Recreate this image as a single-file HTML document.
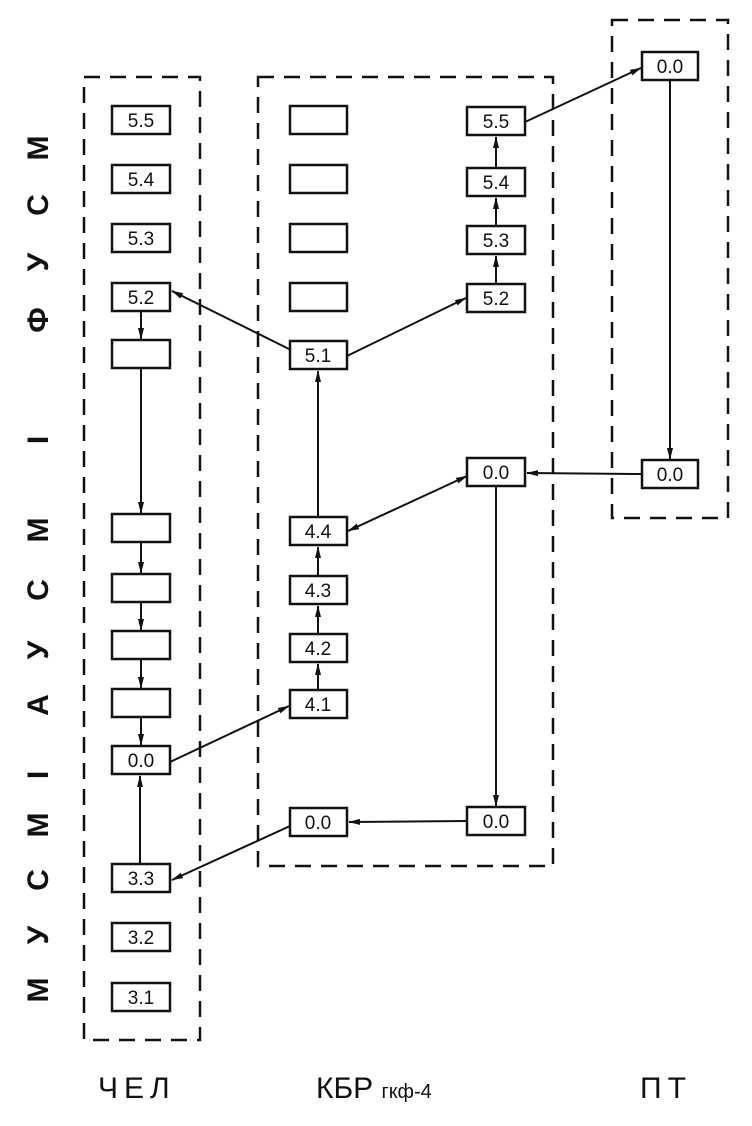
<!DOCTYPE html>
<html><head><meta charset="utf-8"><style>
html,body{margin:0;padding:0;background:#fff}
svg{display:block}
text{font-family:"Liberation Sans","DejaVu Sans",sans-serif;fill:#111}
</style></head><body>
<svg width="752" height="1126" viewBox="0 0 752 1126" xmlns="http://www.w3.org/2000/svg">
<defs>
<marker id="a" markerWidth="12" markerHeight="8" refX="11" refY="4" orient="auto" markerUnits="userSpaceOnUse">
<path d="M0,1 L12,4 L0,7 z" fill="#111"/></marker>
<marker id="s" markerWidth="12" markerHeight="8" refX="1" refY="4" orient="auto" markerUnits="userSpaceOnUse">
<path d="M12,1 L0,4 L12,7 z" fill="#111"/></marker>
</defs>
<g fill="none" stroke="#111" stroke-width="2.5" stroke-dasharray="16,10">
<rect x="84" y="77" width="116" height="963"/>
<rect x="258" y="77" width="295" height="789"/>
<rect x="612" y="20" width="116" height="498"/>
</g>
<g fill="#fff" stroke="#111" stroke-width="2.5">
<rect x="112" y="106" width="58" height="28"/>
<rect x="112" y="165" width="58" height="28"/>
<rect x="112" y="224" width="58" height="28"/>
<rect x="112" y="283" width="58" height="28"/>
<rect x="112" y="340" width="58" height="28"/>
<rect x="112" y="514" width="58" height="28"/>
<rect x="112" y="574" width="58" height="28"/>
<rect x="112" y="631" width="58" height="28"/>
<rect x="112" y="689" width="58" height="28"/>
<rect x="112" y="746" width="58" height="28"/>
<rect x="112" y="864" width="58" height="28"/>
<rect x="112" y="923" width="58" height="28"/>
<rect x="112" y="983" width="58" height="28"/>
<rect x="290" y="106" width="57" height="28"/>
<rect x="290" y="165" width="57" height="28"/>
<rect x="290" y="224" width="57" height="28"/>
<rect x="290" y="283" width="57" height="28"/>
<rect x="290" y="341" width="57" height="28"/>
<rect x="290" y="517" width="57" height="28"/>
<rect x="290" y="576" width="57" height="28"/>
<rect x="290" y="634" width="57" height="28"/>
<rect x="290" y="690" width="57" height="28"/>
<rect x="290" y="808" width="57" height="28"/>
<rect x="467" y="107" width="58" height="28"/>
<rect x="467" y="168" width="58" height="28"/>
<rect x="467" y="226" width="58" height="28"/>
<rect x="467" y="284" width="58" height="28"/>
<rect x="467" y="458" width="58" height="28"/>
<rect x="467" y="807" width="58" height="28"/>
<rect x="642" y="52" width="56" height="28"/>
<rect x="642" y="460" width="56" height="28"/>
</g>
<g font-size="19" text-anchor="middle">
<text x="141" y="127">5.5</text><text x="141" y="186">5.4</text><text x="141" y="245">5.3</text>
<text x="141" y="304">5.2</text><text x="141" y="767">0.0</text><text x="141" y="885">3.3</text>
<text x="141" y="944">3.2</text><text x="141" y="1004">3.1</text>
<text x="318" y="362">5.1</text><text x="318" y="538">4.4</text><text x="318" y="597">4.3</text>
<text x="318" y="655">4.2</text><text x="318" y="711">4.1</text><text x="318" y="829">0.0</text>
<text x="496" y="128">5.5</text><text x="496" y="189">5.4</text><text x="496" y="247">5.3</text>
<text x="496" y="305">5.2</text><text x="496" y="479">0.0</text><text x="496" y="828">0.0</text>
<text x="670" y="73">0.0</text><text x="670" y="481">0.0</text>
</g>
<g stroke="#111" stroke-width="2" fill="none" marker-end="url(#a)">
<line x1="291" y1="350" x2="172" y2="291"/>
<line x1="347" y1="356" x2="466" y2="298"/>
<line x1="496" y1="284" x2="496" y2="256"/>
<line x1="496" y1="226" x2="496" y2="198"/>
<line x1="496" y1="168" x2="496" y2="137"/>
<line x1="525" y1="122" x2="641" y2="68"/>
<line x1="670" y1="80" x2="670" y2="459"/>
<line x1="642" y1="474" x2="527" y2="473"/>
<line x1="467" y1="476" x2="348" y2="531" marker-start="url(#s)"/>
<line x1="496" y1="486" x2="496" y2="806"/>
<line x1="467" y1="821" x2="349" y2="822"/>
<line x1="290" y1="826" x2="172" y2="880"/>
<line x1="140" y1="864" x2="140" y2="776"/>
<line x1="170" y1="762" x2="289" y2="706"/>
<line x1="318" y1="690" x2="318" y2="664"/>
<line x1="318" y1="634" x2="318" y2="606"/>
<line x1="318" y1="576" x2="318" y2="547"/>
<line x1="318" y1="517" x2="318" y2="371"/>
<line x1="141" y1="311" x2="141" y2="339"/>
<line x1="141" y1="368" x2="141" y2="513"/>
<line x1="141" y1="542" x2="141" y2="573"/>
<line x1="141" y1="602" x2="141" y2="630"/>
<line x1="141" y1="659" x2="141" y2="688"/>
<line x1="141" y1="717" x2="141" y2="745"/>
</g>
<g font-size="30" font-weight="bold" text-anchor="middle">
<text transform="translate(48,148) rotate(-90)">М</text>
<text transform="translate(48,205) rotate(-90)">С</text>
<text transform="translate(48,262) rotate(-90)">У</text>
<text transform="translate(48,320) rotate(-90)">Ф</text>
<text transform="translate(48,440) rotate(-90)">I</text>
<text transform="translate(48,530) rotate(-90)">М</text>
<text transform="translate(48,590) rotate(-90)">С</text>
<text transform="translate(48,650) rotate(-90)">У</text>
<text transform="translate(48,705) rotate(-90)">А</text>
<text transform="translate(48,775) rotate(-90)">I</text>
<text transform="translate(48,825) rotate(-90)">М</text>
<text transform="translate(48,880) rotate(-90)">С</text>
<text transform="translate(48,935) rotate(-90)">У</text>
<text transform="translate(48,990) rotate(-90)">М</text>
</g>
<g font-size="30">
<text x="98" y="1098" letter-spacing="6">ЧЕЛ</text>
<text x="316" y="1098">КБР <tspan font-size="20">гкф-4</tspan></text>
<text x="640" y="1098" letter-spacing="6">ПТ</text>
</g>
</svg>
</body></html>
